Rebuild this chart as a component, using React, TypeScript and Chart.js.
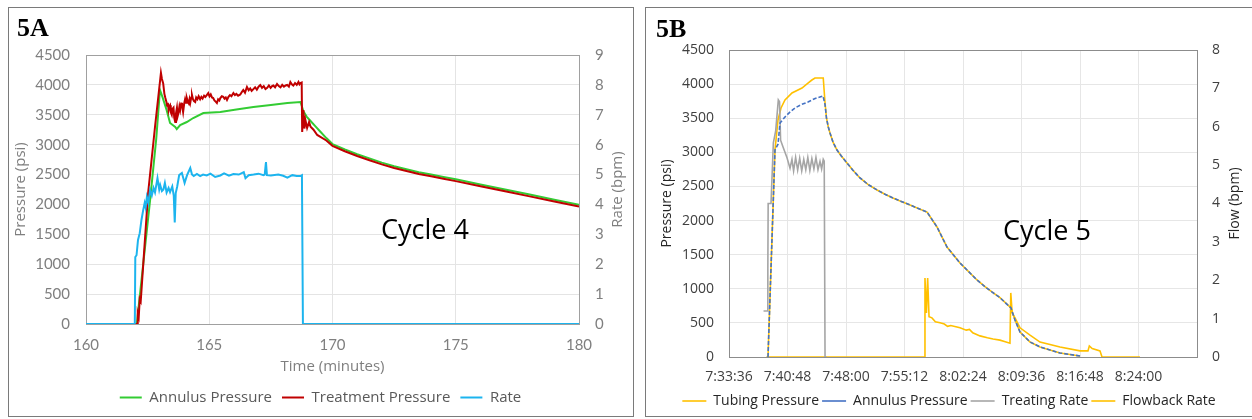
import React, { useEffect, useRef } from 'react';
import Chart from 'chart.js/auto';

// ---------- Panel 5A data (time in minutes) ----------
const aTimeTicks = [160, 165, 170, 175, 180];
const aPressureTicks = [0, 500, 1000, 1500, 2000, 2500, 3000, 3500, 4000, 4500];
const aRateTicks = [0, 1, 2, 3, 4, 5, 6, 7, 8, 9];

const annulusA: [number, number][] = [
  [160, 0], [162.06, 0], [162.6, 2074], [162.85, 3100], [163.0, 3914], [163.1, 3800], [163.27, 3580],
  [163.41, 3362], [163.62, 3295], [163.68, 3260], [163.82, 3329], [164.09, 3379], [164.35, 3446],
  [164.76, 3530], [165.45, 3546], [166.1, 3590], [166.79, 3630], [167.5, 3665], [168.17, 3697],
  [168.7, 3714], [168.82, 3560], [168.95, 3470], [169.1, 3400], [169.3, 3310], [169.5, 3220],
  [169.75, 3110], [170, 3010], [170.5, 2920], [171, 2840], [171.5, 2770], [172, 2700], [172.5, 2640],
  [173, 2590], [173.5, 2540], [174, 2500], [174.5, 2460], [175, 2420], [176, 2335], [177, 2250],
  [178, 2165], [179, 2080], [180, 1995],
];

const treatmentA: [number, number][] = [
  [160, 0], [162.08, 0], [162.1, 180], [162.14, 120], [162.18, 420], [162.22, 380], [162.52, 2190],
  [162.8, 3300], [163.04, 4200], [163.08, 4100], [163.13, 4030], [163.18, 3850], [163.22, 3780],
  [163.26, 3720], [163.29, 3650], [163.32, 3700], [163.35, 3580], [163.38, 3640], [163.41, 3660],
  [163.44, 3540], [163.48, 3500], [163.51, 3600], [163.55, 3620], [163.58, 3450], [163.62, 3380],
  [163.65, 3520], [163.69, 3620], [163.72, 3480], [163.75, 3530], [163.79, 3640], [163.82, 3580],
  [163.86, 3690], [163.89, 3700], [163.92, 3600], [163.94, 3546], [163.98, 3680], [164.02, 3760],
  [164.06, 3700], [164.09, 3780], [164.13, 3720], [164.17, 3690], [164.2, 3760], [164.23, 3700],
  [164.27, 3790], [164.3, 3830], [164.34, 3760], [164.38, 3730], [164.43, 3714], [164.47, 3790],
  [164.52, 3760], [164.57, 3810], [164.63, 3760], [164.68, 3800], [164.73, 3770], [164.79, 3820],
  [164.84, 3797], [164.9, 3830], [164.96, 3864], [165.01, 3810], [165.06, 3840], [165.11, 3790],
  [165.16, 3780], [165.21, 3740], [165.26, 3720], [165.31, 3697], [165.36, 3760], [165.41, 3740],
  [165.45, 3780], [165.51, 3810], [165.57, 3800], [165.62, 3770], [165.67, 3790], [165.72, 3747],
  [165.78, 3800], [165.84, 3830], [165.9, 3810], [165.98, 3864], [166.04, 3830], [166.1, 3850],
  [166.17, 3820], [166.26, 3840], [166.32, 3880], [166.38, 3914], [166.45, 3870], [166.53, 3965],
  [166.6, 3910], [166.66, 3940], [166.72, 3900], [166.79, 3930], [166.86, 3960], [166.93, 3920],
  [167.0, 3970], [167.07, 3998], [167.14, 3950], [167.21, 3980], [167.28, 3930], [167.35, 3950],
  [167.42, 3990], [167.49, 3950], [167.55, 3980], [167.6, 3990], [167.67, 3960], [167.75, 4015],
  [167.82, 3980], [167.89, 3960], [167.96, 4000], [168.03, 3970], [168.1, 3990], [168.16, 4000],
  [168.23, 3970], [168.29, 4048], [168.35, 4010], [168.41, 3990], [168.48, 4030], [168.55, 4000],
  [168.62, 4048], [168.66, 4010], [168.7, 4030], [168.75, 4040], [168.77, 3212], [168.82, 3580],
  [168.86, 3270], [168.9, 3413], [168.97, 3279], [169.05, 3380], [169.11, 3300], [169.23, 3250],
  [169.38, 3162], [169.51, 3130], [169.75, 3070], [170, 2980], [170.5, 2890], [171, 2810],
  [171.5, 2740], [172, 2670], [172.5, 2610], [173, 2560], [173.5, 2510], [174, 2470], [174.5, 2430],
  [175, 2390], [176, 2305], [177, 2220], [178, 2135], [179, 2050], [180, 1965],
];

const rateA: [number, number][] = [
  [160, 0], [161.98, 0], [162.0, 2.24], [162.05, 2.3], [162.11, 2.81], [162.18, 3.04], [162.25, 3.48],
  [162.32, 3.81], [162.38, 4.05], [162.42, 3.9], [162.47, 4.25], [162.53, 4.05], [162.6, 4.48],
  [162.67, 4.3], [162.74, 4.55], [162.8, 4.4], [162.9, 4.88], [162.97, 4.5], [163.01, 4.65],
  [163.08, 4.45], [163.14, 4.5], [163.2, 4.72], [163.27, 4.4], [163.35, 4.55], [163.41, 4.41],
  [163.5, 4.6], [163.56, 4.3], [163.6, 3.4], [163.64, 4.38], [163.7, 4.6], [163.78, 4.98],
  [163.89, 5.05], [164.0, 4.72], [164.1, 4.98], [164.23, 5.22], [164.3, 5.0], [164.37, 4.95],
  [164.5, 5.02], [164.63, 4.95], [164.75, 5.0], [164.9, 4.97], [165.05, 5.03], [165.24, 4.92],
  [165.45, 4.97], [165.6, 5.04], [165.8, 4.96], [165.98, 5.02], [166.2, 5.0], [166.4, 5.08],
  [166.47, 4.88], [166.6, 4.98], [166.8, 5.0], [167.0, 5.03], [167.2, 4.98], [167.25, 5.0],
  [167.3, 5.42], [167.34, 4.98], [167.5, 4.97], [167.8, 5.0], [168.0, 4.96], [168.17, 4.9],
  [168.37, 4.98], [168.55, 4.95], [168.7, 4.95], [168.76, 4.98], [168.8, 0], [180, 0],
];

// ---------- Panel 5B data (time in minutes after 7:33:36) ----------
const bTimeLabels = ['7:33:36', '7:40:48', '7:48:00', '7:55:12', '8:02:24', '8:09:36', '8:16:48', '8:24:00', ''];
const bPressureTicks = [0, 500, 1000, 1500, 2000, 2500, 3000, 3500, 4000, 4500];
const bFlowTicks = [0, 1, 2, 3, 4, 5, 6, 7, 8];

const tubingB: [number, number][] = [
  [4.6, 0], [4.8, 0], [5.66, 3034], [6.03, 3474], [6.4, 3650], [6.89, 3767], [7.75, 3870],
  [8.98, 3943], [9.72, 4016], [10.2, 4060], [10.58, 4090], [11.6, 4090], [11.82, 3723],
  [12.0, 3500], [12.22, 3372], [12.43, 3283], [12.8, 3150], [13.29, 3034], [13.8, 2950],
  [14.52, 2844], [15.2, 2745], [16.12, 2624], [17.1, 2530], [18.22, 2448], [19.2, 2385],
  [20.18, 2331], [21.2, 2280], [22.28, 2228], [23.3, 2178], [24.37, 2125], [25.6, 1906],
  [26.83, 1612], [28.43, 1378], [30.52, 1129], [31.51, 1030], [32.4, 950], [33.35, 870],
  [34.71, 718], [35.2, 542], [35.82, 366], [37.05, 220], [38.28, 147], [40.74, 59], [43.2, 15],
];

const annulusB: [number, number][] = [
  [4.8, 0], [5.66, 3034], [6.03, 3120], [6.28, 3430], [6.89, 3518], [7.5, 3590], [8.12, 3650],
  [8.9, 3700], [9.72, 3738], [10.6, 3790], [11.57, 3826], [11.82, 3700], [12.0, 3500],
  [12.22, 3372], [12.43, 3283], [12.8, 3150], [13.29, 3034], [13.8, 2950], [14.52, 2844],
  [15.2, 2745], [16.12, 2624], [17.1, 2530], [18.22, 2448], [19.2, 2385], [20.18, 2331],
  [21.2, 2280], [22.28, 2228], [23.3, 2178], [24.37, 2125], [25.6, 1906], [26.83, 1612],
  [28.43, 1378], [30.52, 1129], [31.51, 1030], [32.4, 950], [33.35, 870], [34.71, 718],
  [35.2, 542], [35.82, 366], [37.05, 220], [38.28, 147], [40.74, 59], [43.2, 15],
];

const treatingB: [number, number][] = [
  [4.25, 1.2], [4.74, 1.2], [4.78, 2.3], [4.82, 4.0], [5.17, 4.0], [5.46, 5.58], [5.75, 5.9],
  [6.07, 6.7], [6.22, 6.65], [6.35, 5.65], [6.65, 5.47], [7.14, 5.19], [7.51, 4.92],
  [7.75, 5.15], [7.95, 4.85], [8.2, 5.2], [8.45, 4.87], [8.7, 5.18], [8.95, 4.85], [9.2, 5.15],
  [9.45, 4.88], [9.7, 5.2], [9.95, 4.86], [10.2, 5.17], [10.45, 4.9], [10.7, 5.2], [10.95, 4.88],
  [11.2, 5.1], [11.4, 4.9], [11.6, 5.15], [11.72, 5.1], [11.82, 0], [12.0, 0],
];

const flowbackB: [number, number][] = [
  [4.7, 0], [24.06, 0], [24.12, 2.06], [24.3, 1.15], [24.45, 2.06], [24.62, 1.05], [24.98, 1.02],
  [25.4, 0.92], [25.97, 0.89], [26.5, 0.86], [26.9, 0.8], [27.3, 0.82], [28.43, 0.76], [29.2, 0.7],
  [29.6, 0.72], [30.0, 0.63], [30.89, 0.55], [31.8, 0.5], [32.5, 0.47], [33.35, 0.44], [34.0, 0.4],
  [34.58, 0.36], [34.68, 1.67], [34.85, 1.15], [35.2, 1.02], [35.82, 0.76], [37.05, 0.57],
  [38.28, 0.39], [40.74, 0.26], [43.2, 0.16], [44.18, 0.16], [44.35, 0.29], [44.7, 0.22],
  [45.66, 0.16], [45.91, 0], [50.58, 0],
];

const toXY = (arr: [number, number][]) => arr.map(([x, y]) => ({ x, y }));
const plain = (v: any) => String(v);

const frame = (color: string) => ({
  id: 'frame',
  beforeDatasetsDraw(chart: any) {
    const { ctx, chartArea: a } = chart;
    ctx.save();
    ctx.strokeStyle = color;
    ctx.lineWidth = 1;
    ctx.strokeRect(Math.round(a.left) + 0.5, Math.round(a.top) + 0.5, Math.round(a.right - a.left), Math.round(a.bottom - a.top));
    ctx.restore();
  },
});

const rightTitle = (text: string, font: string, color: string, fromRight: number) => ({
  id: 'rightTitle',
  afterDraw(chart: any) {
    const { ctx, chartArea: a, width } = chart;
    ctx.save();
    ctx.font = font;
    ctx.fillStyle = color;
    ctx.textAlign = 'center';
    ctx.textBaseline = 'middle';
    ctx.translate(width - fromRight, (a.top + a.bottom) / 2);
    ctx.rotate(-Math.PI / 2);
    ctx.fillText(text, 0, 0);
    ctx.restore();
  },
});

const byIndex = (a: any, b: any) => a.datasetIndex - b.datasetIndex;

function PanelA() {
  const ref = useRef<HTMLCanvasElement>(null);
  useEffect(() => {
    const grey = '#7f7f7f';
    const tickFont = { family: 'Lato', size: 15 };
    const chart = new Chart(ref.current!, {
      type: 'line',
      data: {
        datasets: [
          { label: 'Annulus Pressure', data: toXY(annulusA), borderColor: '#33cc33', backgroundColor: '#33cc33', borderWidth: 2, yAxisID: 'y', order: 2 },
          { label: 'Treatment Pressure', data: toXY(treatmentA), borderColor: '#c00000', backgroundColor: '#c00000', borderWidth: 2, yAxisID: 'y', order: 1 },
          { label: 'Rate', data: toXY(rateA), borderColor: '#1cb4ee', backgroundColor: '#1cb4ee', borderWidth: 2, yAxisID: 'y1', order: 0 },
        ],
      },
      options: {
        responsive: true,
        maintainAspectRatio: false,
        animation: false,
        elements: { point: { radius: 0 }, line: { tension: 0 } },
        layout: { padding: { top: 47, left: 0, right: 0, bottom: 0 } },
        plugins: {
          tooltip: { enabled: false },
          legend: {
            position: 'bottom',
            labels: { sort: byIndex, usePointStyle: true, pointStyle: 'line', pointStyleWidth: 22, padding: 10, color: '#595959', font: { family: "'Open Sans'", size: 15 } },
          },
        },
        scales: {
          x: {
            type: 'linear', min: aTimeTicks[0], max: aTimeTicks[aTimeTicks.length - 1],
            afterBuildTicks: (s: any) => { s.ticks = aTimeTicks.map((v) => ({ value: v })); },
            ticks: { padding: 12, color: grey, font: tickFont, maxRotation: 0, autoSkip: false, callback: plain },
            grid: { color: '#e4e4e4', drawTicks: false },
            border: { display: false },
            title: { display: true, text: 'Time (minutes)', color: grey, font: { family: "'Open Sans'", size: 15 }, padding: { top: 0, bottom: 4 } },
            afterFit: (s: any) => { s.height = 56; },
          },
          y: {
            position: 'left', min: 0, max: 4500,
            afterBuildTicks: (s: any) => { s.ticks = aPressureTicks.map((v) => ({ value: v })); },
            ticks: { padding: 16, color: grey, font: tickFont, callback: plain },
            grid: { color: '#e4e4e4', drawTicks: false },
            border: { display: false },
            title: { display: true, text: 'Pressure (psi)', color: grey, font: { family: "'Open Sans'", size: 15 }, padding: { top: 3, bottom: 0 } },
            afterFit: (s: any) => { s.width = 77; },
          },
          y1: {
            position: 'right', min: 0, max: 9,
            afterBuildTicks: (s: any) => { s.ticks = aRateTicks.map((v) => ({ value: v })); },
            ticks: { padding: 16, color: grey, font: tickFont, callback: plain },
            grid: { display: false, drawTicks: false },
            border: { display: false },
            afterFit: (s: any) => { s.width = 53; },
          },
        },
      },
      plugins: [frame('#a0a0a0'), rightTitle('Rate (bpm)', "15px 'Open Sans'", grey, 14)],
    } as any);
    return () => chart.destroy();
  }, []);
  return (
    <div style={{ position: 'absolute', left: 9, top: 8, width: 623, height: 407 }}>
      <canvas ref={ref} />
    </div>
  );
}

function PanelB() {
  const ref = useRef<HTMLCanvasElement>(null);
  useEffect(() => {
    const dark = '#404040';
    const tickFont = { family: "'Open Sans'", size: 14 };
    const chart = new Chart(ref.current!, {
      type: 'line',
      data: {
        datasets: [
          { label: 'Tubing Pressure', data: toXY(tubingB), borderColor: '#ffc000', backgroundColor: '#ffc000', borderWidth: 1.6, yAxisID: 'y', order: 2 },
          { label: 'Annulus Pressure', data: toXY(annulusB), borderColor: '#4472c4', backgroundColor: '#4472c4', borderWidth: 1.6, borderDash: [4, 2], yAxisID: 'y', order: 0 },
          { label: 'Treating Rate', data: toXY(treatingB), borderColor: '#a5a5a5', backgroundColor: '#a5a5a5', borderWidth: 1.6, yAxisID: 'y1', order: 1 },
          { label: 'Flowback Rate', data: toXY(flowbackB), borderColor: '#ffc000', backgroundColor: '#ffc000', borderWidth: 1.6, yAxisID: 'y1', order: 3 },
        ],
      },
      options: {
        responsive: true,
        maintainAspectRatio: false,
        animation: false,
        elements: { point: { radius: 0 }, line: { tension: 0 } },
        layout: { padding: { top: 42, left: 0, right: 0, bottom: 0 } },
        plugins: {
          tooltip: { enabled: false },
          legend: {
            position: 'bottom',
            labels: { sort: byIndex, usePointStyle: true, pointStyle: 'line', pointStyleWidth: 24, padding: 3, color: '#262626', font: { family: "'Open Sans'", size: 14 } },
          },
        },
        scales: {
          x: {
            type: 'linear', min: 0, max: 57.6,
            afterBuildTicks: (s: any) => { s.ticks = bTimeLabels.map((_, i) => ({ value: i * 7.2 })); },
            ticks: {
              padding: 12, color: dark, font: tickFont, maxRotation: 0, autoSkip: false,
              callback: (_v: any, i: number) => bTimeLabels[i],
            },
            grid: { color: '#e6e6e6', drawTicks: false },
            border: { display: false },
            afterFit: (s: any) => { s.height = 34; },
          },
          y: {
            position: 'left', min: 0, max: 4500,
            afterBuildTicks: (s: any) => { s.ticks = bPressureTicks.map((v) => ({ value: v })); },
            ticks: { padding: 15, color: dark, font: tickFont, callback: plain },
            grid: { color: '#e6e6e6', drawTicks: false },
            border: { display: false },
            title: { display: true, text: 'Pressure (psi)', color: '#262626', font: { family: "'Open Sans'", size: 14 }, padding: { top: 13, bottom: 0 } },
            afterFit: (s: any) => { s.width = 83; },
          },
          y1: {
            position: 'right', min: 0, max: 8,
            afterBuildTicks: (s: any) => { s.ticks = bFlowTicks.map((v) => ({ value: v })); },
            ticks: { padding: 15, color: dark, font: tickFont, callback: plain },
            grid: { display: false, drawTicks: false },
            border: { display: false },
            afterFit: (s: any) => { s.width = 55; },
          },
        },
      },
      plugins: [frame('#8c8c8c'), rightTitle('Flow (bpm)', "14px 'Open Sans'", '#262626', 17)],
    } as any);
    return () => chart.destroy();
  }, []);
  return (
    <div style={{ position: 'absolute', left: 646, top: 8, width: 606, height: 410 }}>
      <canvas ref={ref} />
    </div>
  );
}

export default function App() {
  useEffect(() => {
    document.body.style.overflow = 'hidden';
  }, []);
  const label: React.CSSProperties = { position: 'absolute', fontFamily: "'Liberation Serif', serif", fontWeight: 'bold', fontSize: 26, lineHeight: '26px', color: '#000' };
  const cycle: React.CSSProperties = { position: 'absolute', fontFamily: "'Open Sans', sans-serif", fontSize: 27, lineHeight: '27px', color: '#000', whiteSpace: 'nowrap' };
  return (
    <div>
      <div style={{ position: 'absolute', left: 8, top: 7, width: 626, height: 410, boxSizing: 'border-box', border: '1px solid #7a7a7a' }} />
      <div style={{ position: 'absolute', left: 645, top: 7, width: 607, height: 410, boxSizing: 'border-box', border: '1px solid #7a7a7a', borderRight: 'none' }} />
      <PanelA />
      <PanelB />
      <div style={{ ...label, left: 17, top: 15 }}>5A</div>
      <div style={{ ...label, left: 656, top: 16 }}>5B</div>
      <div style={{ ...cycle, left: 381, top: 215 }}>Cycle 4</div>
      <div style={{ ...cycle, left: 1003, top: 216 }}>Cycle 5</div>
    </div>
  );
}
